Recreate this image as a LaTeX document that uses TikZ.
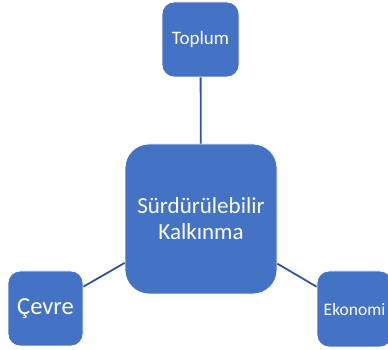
\documentclass[tikz,border=0pt]{standalone}
\usepackage{fontspec}
\setmainfont{Carlito}
\definecolor{boxblue}{HTML}{4472C4}
\definecolor{lineblue}{HTML}{2F5597}
\tikzset{
  sabox/.style={draw=white, line width=0.8pt, fill=boxblue, text=white, inner sep=0pt, align=center},
  conn/.style={draw=lineblue, line width=1.8pt}
}
\begin{document}
\begin{tikzpicture}[x=1pt,y=1pt]
\useasboundingbox (0,0) rectangle (388,350);
\clip (0,0) rectangle (388,350);
\node[sabox, minimum width=152pt, minimum height=150pt, rounded corners=24pt, font=\fontsize{23}{26}\selectfont] (center) at (201,131) {Sürdürülebilir\\Kalkınma};
\node[sabox, minimum width=77pt, minimum height=75pt, rounded corners=12pt, font=\fontsize{19}{22}\selectfont] (toplum) at (200.5,310.5) {Toplum};
\node[sabox, minimum width=75pt, minimum height=75pt, rounded corners=12pt, font=\fontsize{24.5}{27}\selectfont] (cevre) at (45.5,41.5) {Çevre};
\node[sabox, minimum width=75pt, minimum height=76pt, rounded corners=12pt, font=\fontsize{17.5}{20}\selectfont] (ekonomi) at (354.5,41) {Ekonomi};
\draw[conn] (toplum) -- (center);
\draw[conn] (cevre) -- (center);
\draw[conn] (ekonomi) -- (center);
\end{tikzpicture}
\end{document}
